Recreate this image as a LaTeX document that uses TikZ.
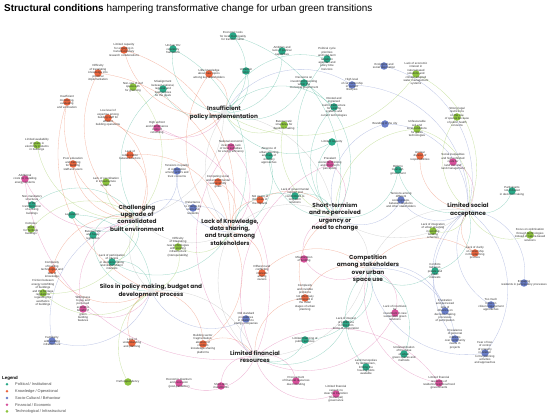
\documentclass[tikz,border=0pt]{standalone}
\usepackage{fontspec}
\setmainfont{Liberation Sans}
\newfontfamily\catfont{Poppins}
\usepackage{tikz}
\usetikzlibrary{backgrounds}

\definecolor{polcol}{RGB}{40,168,135}
\definecolor{knocol}{RGB}{235,100,60}
\definecolor{soccol}{RGB}{105,125,200}
\definecolor{fincol}{RGB}{215,80,155}
\definecolor{teccol}{RGB}{140,195,60}

\begin{document}
\begin{tikzpicture}[
  x=1pt, y=-1pt,
  every node/.style={align=center},
  dot/.style={circle, inner sep=0pt, minimum size=7.5pt},
  pol/.style={dot, fill=polcol},
  kno/.style={dot, fill=knocol},
  soc/.style={dot, fill=soccol},
  fin/.style={dot, fill=fincol},
  tec/.style={dot, fill=teccol},
  hub/.style={circle, inner sep=0pt, minimum size=7pt, fill=black!7},
  lbl/.style={font=\fontsize{2.9}{3.4}\selectfont, text=black!80, inner sep=0pt},
  cat/.style={font=\catfont\bfseries\fontsize{5.8}{7.2}\selectfont, text=black!85, inner sep=0pt},
  link/.style={line width=0.3pt, opacity=0.45},
  legdot/.style={circle, inner sep=0pt, minimum size=2.8pt},
  legtxt/.style={anchor=west, font=\fontsize{3.9}{4.6}\selectfont, text=black!70, inner sep=0pt}
]
\useasboundingbox (0,0) rectangle (550,417);

\node[anchor=west, font=\fontsize{9.9}{11}\selectfont, inner sep=0pt] (title) at (4,9)
  {\textbf{Structural conditions} hampering transformative change for urban green transitions};

% category hubs
\node[hub, label={[cat]center:{Insufficient\\policy implementation}}] (c1) at (224,113) {};
\node[hub, label={[cat]center:{Challenging\\upgrade of\\consolidated\\built environment}}] (c2) at (137,218) {};
\node[hub, label={[cat]center:{Lack of Knowledge,\\data sharing,\\and trust among\\stakeholders}}] (c3) at (230,232) {};
\node[hub, label={[cat]center:{Short-termism\\and no perceived\\urgency or\\need to change}}] (c4) at (335,217) {};
\node[hub, label={[cat]center:{Limited social\\acceptance}}] (c5) at (468,210) {};
\node[hub, label={[cat]center:{Competition\\among stakeholders\\over urban\\space use}}] (c6) at (368,269) {};
\node[hub, label={[cat]center:{Silos in policy making, budget and\\development process}}] (c7) at (151,291) {};
\node[hub, label={[cat]center:{Limited financial\\resources}}] (c8) at (255,357) {};

% political / institutional
\node[pol, label={[lbl]center:{Economic tools\\for local municipality\\for transformation}}] (p1) at (233,36) {};
\node[pol, label={[lbl]center:{Unclear EU\\regulatory\\framework}}] (p2) at (173,49) {};
\node[pol, label={[lbl]center:{Uncertain\\policy}}] (p3) at (246,71) {};
\node[pol, label={[lbl]center:{Misalignment\\between national,\\regional and\\local policies\\for the goals}}] (p4) at (163,89) {};
\node[pol, label={[lbl]center:{Ambition and\\lack of political\\capabilities}}] (p5) at (282,51) {};
\node[pol, label={[lbl]center:{Political cycle\\priorities\\and long-term\\targets in\\agendas and\\policy time\\horizons}}] (p6) at (327,59) {};
\node[pol, label={[lbl]center:{Decisions on\\investment spending\\within the\\municipal government}}] (p7) at (304,83) {};
\node[pol, label={[lbl]center:{Rooted and\\ingrained\\built infrastructure\\for existing\\systems and\\current technologies}}] (p8) at (334,107) {};
\node[pol, label={[lbl]center:{Limited capacity}}] (p9) at (332,142) {};
\node[pol, label={[lbl]center:{Non-mandatory\\structures\\for the\\transformation\\of existing\\buildings}}] (p10) at (32,205) {};
\node[pol, label={[lbl]center:{Legislation}}] (p11) at (72,215) {};
\node[pol, label={[lbl]center:{Bureaucratic\\and heavy\\legislation}}] (p12) at (93,235) {};
\node[pol, label={[lbl]center:{Lack of participation\\of citizens\\in decision-making\\and stakeholders'\\interests}}] (p13) at (112,262) {};
\node[pol, label={[lbl]center:{Absence of\\urban planning\\and lack of\\visionary\\approaches}}] (p14) at (269,156) {};
\node[pol, label={[lbl]center:{Right to\\local self-\\government}}] (p15) at (398,170) {};
\node[pol, label={[lbl]center:{Lack of governmental\\support and\\commitment to\\long-term\\solutions}}] (p16) at (295,196) {};
\node[pol, label={[lbl]center:{Participants\\not included\\in decision-making}}] (p17) at (512,191) {};
\node[pol, label={[lbl]center:{Conflicts\\between\\private and\\public\\interests}}] (p18) at (435,271) {};
\node[pol, label={[lbl]center:{Lack of interest\\of politicians\\in long-term\\forms of cooperation}}] (p19) at (346,324) {};
\node[pol, label={[lbl]center:{Limited financing of\\public services}}] (p20) at (305,340) {};
\node[pol, label={[lbl]center:{Underestimation\\of the value\\of urban\\green spaces and\\methods}}] (p21) at (404,354) {};
\node[pol, label={[lbl]center:{Land monopolies\\by landowners,\\limiting the\\housing plots\\available}}] (p22) at (366,367) {};

% knowledge / operational
\node[kno, label={[lbl]center:{Limited capacity\\for engaging in\\transdisciplinary\\research collaborations}}] (k1) at (124,50) {};
\node[kno, label={[lbl]center:{Difficulty\\of translating\\knowledge into\\practical\\implementation}}] (k2) at (98,73) {};
\node[kno, label={[lbl]center:{Insufficient\\monitoring,\\evaluating\\and verification}}] (k3) at (67,102) {};
\node[kno, label={[lbl]center:{Low level of\\expertise among\\building staff for\\efficient\\building operations}}] (k4) at (108,118) {};
\node[kno, label={[lbl]center:{Little knowledge\\about new topics\\among key stakeholders}}] (k5) at (209,74) {};
\node[kno, label={[lbl]center:{Lack of\\collaboration\\between sectors}}] (k6) at (130,155) {};
\node[kno, label={[lbl]center:{Poor education\\and training\\for building\\staff and users}}] (k7) at (73,164) {};
\node[kno, label={[lbl]center:{Complexity\\of building\\technologies and\\lack of\\knowledge}}] (k8) at (52,270) {};
\node[kno, label={[lbl]center:{Competing social\\and environmental\\sustainability\\goals}}] (k9) at (218,182) {};
\node[kno, label={[lbl]center:{Not aware of\\the scale of\\the impacts}}] (k10) at (260,200) {};
\node[kno, label={[lbl]center:{Different and\\conflicting\\interests\\among\\owners}}] (k11) at (262,273) {};
\node[kno, label={[lbl]center:{Unclear\\division of\\responsibilities}}] (k12) at (420,156) {};
\node[kno, label={[lbl]center:{Lack of clarity\\on ownership\\in the planning\\process}}] (k13) at (475,253) {};
\node[kno, label={[lbl]center:{Lack of\\understanding\\and planning}}] (k14) at (132,343) {};
\node[kno, label={[lbl]center:{Building sector\\fragmentation,\\absence of\\common\\knowledge-sharing\\platforms}}] (k15) at (203,344) {};
\node[kno, label={[lbl]center:{Complexity\\and invisible\\problems\\not effectively\\addressed in\\the initial\\stages of urban\\planning}}] (k16) at (305,298) {};

% socio-cultural / behaviour
\node[soc, label={[lbl]center:{Ecological and\\social deprivation}}] (s1) at (384,66) {};
\node[soc, label={[lbl]center:{High level\\of car ownership\\in current\\lifestyles}}] (s2) at (352,85) {};
\node[soc, label={[lbl]center:{Branding of the city}}] (s3) at (385,124) {};
\node[soc, label={[lbl]center:{Tensions in quality\\of cooperation\\among actors and\\trust concerns}}] (s4) at (177,171) {};
\node[soc, label={[lbl]center:{Reluctance\\to change by\\users and\\residents}}] (s5) at (193,208) {};
\node[soc, label={[lbl]center:{Tensions among\\different\\social groups,\\between residents\\and other stakeholders}}] (s6) at (401,200) {};
\node[soc, label={[lbl]center:{Familiarity\\with existing\\infrastructure}}] (s7) at (52,341) {};
\node[soc, label={[lbl]center:{Old standard\\procedures\\in relation to\\energy companies}}] (s8) at (246,319) {};
\node[soc, label={[lbl]center:{Engaging\\residents in participatory processes}}] (s9) at (524,283) {};
\node[soc, label={[lbl]center:{Frustration\\and perceived\\lack of\\influence on\\decision-making\\processes\\of participation}}] (s10) at (445,311) {};
\node[soc, label={[lbl]center:{Too much\\focus on\\citizen engagement\\approaches}}] (s11) at (491,305) {};
\node[soc, label={[lbl]center:{Prevalence\\of personal\\interests\\over community\\needs in\\projects}}] (s12) at (455,339) {};
\node[soc, label={[lbl]center:{Fear of loss\\of control\\of property\\in relation\\to the planning\\activities\\and approaches}}] (s13) at (485,353) {};

% financial / economic
\node[fin, label={[lbl]center:{High upfront\\and maintenance\\costs of\\retrofitting}}] (f1) at (157,128) {};
\node[fin, label={[lbl]center:{Additional\\costs for installing\\energy systems}}] (f2) at (25,179) {};
\node[fin, label={[lbl]center:{National economic\\incentives, lack\\of local subsidies\\for energy efficiency}}] (f3) at (231,147) {};
\node[fin, label={[lbl]center:{Prevalent\\economic thinking\\and short-term\\perception}}] (f4) at (330,164) {};
\node[fin, label={[lbl]center:{Misallocation\\of funding}}] (f5) at (304,259) {};
\node[fin, label={[lbl]center:{Social inequalities\\and high reflected\\costs for\\land use and\\land management}}] (f6) at (453,162) {};
\node[fin, label={[lbl]center:{Willingness\\to pay and\\perceived\\economic\\benefit of\\green\\building\\features}}] (f7) at (83,309) {};
\node[fin, label={[lbl]center:{Economic downturn\\and recession\\(post-pandemic)}}] (f8) at (179,383) {};
\node[fin, label={[lbl]center:{Short-term\\investments}}] (f9) at (221,386) {};
\node[fin, label={[lbl]center:{Lack of incentives\\for\\investment in new\\sustainable green\\solutions}}] (f10) at (395,313) {};
\node[fin, label={[lbl]center:{Procurement\\of financial resources\\due to funding}}] (f11) at (296,381) {};
\node[fin, label={[lbl]center:{Limited financial\\capacity to\\steer the transition\\(municipal)\\governance}}] (f12) at (336,394) {};
\node[fin, label={[lbl]center:{Limited financial\\resources of\\residents/neighbourhood\\governments}}] (f13) at (439,383) {};

% technological / infrastructural
\node[tec, label={[lbl]center:{Non-use of roof\\space with\\for greening}}] (t1) at (133,87) {};
\node[tec, label={[lbl]center:{Limited availability\\of space in\\electricity systems\\in buildings}}] (t2) at (37,145) {};
\node[tec, label={[lbl]center:{Bureaucratic\\structures for\\decision-making}}] (t3) at (284,125) {};
\node[tec, label={[lbl]center:{Lack of economic\\interest in\\nature-based\\solutions and\\climate-adapted\\water management\\systems}}] (t4) at (416,74) {};
\node[tec, label={[lbl]center:{Strong legal\\restrictions\\on the use\\of spaces because\\of public health\\concerns}}] (t5) at (457,117) {};
\node[tec, label={[lbl]center:{Unfavourable\\soil and\\local conditions\\for green\\technologies}}] (t6) at (417,129) {};
\node[tec, label={[lbl]center:{Lack of coordination\\in infrastructure\\systems}}] (t7) at (106,182) {};
\node[tec, label={[lbl]center:{Complex\\retrofit\\for heritage\\buildings}}] (t8) at (31,229) {};
\node[tec, label={[lbl]center:{Difficulty\\of integrating\\new technologies\\with existing\\infrastructure\\(interoperability)}}] (t9) at (178,247) {};
\node[tec, label={[lbl]center:{Lack of integration\\of urban greening\\in existing\\building\\schemes}}] (t10) at (433,231) {};
\node[tec, label={[lbl]center:{Focus on optimisation\\through technologies\\instead of nature-based\\solutions}}] (t11) at (530,235) {};
\node[tec, label={[lbl]center:{Friction between\\energy retrofitting\\of buildings\\and the heritage\\regulations\\regarding the\\aesthetics\\of buildings}}] (t12) at (43,293) {};
\node[tec, label={[lbl]center:{Path dependency}}] (t13) at (128,382) {};

% legend
\node[anchor=west, font=\bfseries\fontsize{4.4}{5}\selectfont, inner sep=0pt] (legend) at (2,378) {Legend};
\node[legdot, fill=polcol] (lg1) at (7,384.3) {};
\node[legtxt] at (15,384.3) {Political / Institutional};
\node[legdot, fill=knocol] (lg2) at (7,391.2) {};
\node[legtxt] at (15,391.2) {Knowledge / Operational};
\node[legdot, fill=soccol] (lg3) at (7,398) {};
\node[legtxt] at (15,398) {Socio-Cultural / Behaviour};
\node[legdot, fill=fincol] (lg4) at (7,404.7) {};
\node[legtxt] at (15,404.7) {Financial / Economic};
\node[legdot, fill=teccol] (lg5) at (7,411.4) {};
\node[legtxt] at (15,411.4) {Technological / Infrastructural};

% links
\begin{scope}[on background layer]
\fill[white] (0,0) rectangle (550,417);
\foreach \a/\b [count=\i, evaluate=\i as \bnd using {44*(2*mod(\i,2)-1)}] in
  {p1/c1, p2/c1, p3/c1, p4/c1, p5/c1, p6/c1, p7/c1, p8/c1, p9/c1, p9/c4, p7/c4, p8/c4,
   p10/c2, p11/c2, p12/c2, p12/c7, p11/c7, p13/c2, p13/c7, p13/c3, p14/c3, p14/c4,
   p15/c4, p15/c5, p16/c4, p16/c3, p17/c5, p18/c5, p18/c6, p19/c6, p19/c8, p20/c6,
   p20/c8, p21/c6, p22/c6, p4/c2, p2/c3, p6/c4, p1/c4}
  \draw[link, polcol] (\a) to[bend left=\bnd] (\b);
\foreach \a/\b [count=\i, evaluate=\i as \bnd using {42*(1-2*mod(\i,2))}] in
  {k1/c1, k1/c3, k2/c2, k2/c3, k3/c2, k4/c2, k4/c1, k5/c1, k5/c3, k6/c2, k7/c2, k8/c2,
   k8/c7, k9/c3, k10/c3, k10/c4, k11/c3, k11/c6, k12/c5, k13/c5, k13/c6, k14/c7,
   k15/c7, k15/c8, k15/c3, k16/c6, k16/c8, k16/c4, k3/c7, k6/c3}
  \draw[link, knocol] (\a) to[bend left=\bnd] (\b);
\foreach \a/\b [count=\i, evaluate=\i as \bnd using {44*(2*mod(\i,2)-1)}] in
  {s1/c5, s2/c1, s2/c5, s3/c4, s3/c5, s4/c3, s4/c2, s5/c2, s5/c3, s6/c5, s6/c4, s7/c7,
   s7/c2, s8/c8, s8/c7, s9/c5, s10/c5, s10/c6, s11/c5, s12/c6, s12/c5, s13/c5, s13/c6}
  \draw[link, soccol] (\a) to[bend left=\bnd] (\b);
\foreach \a/\b [count=\i, evaluate=\i as \bnd using {46*(1-2*mod(\i,2))}] in
  {f1/c1, f1/c8, f2/c2, f3/c3, f3/c8, f4/c4, f4/c8, f5/c4, f5/c6, f6/c5, f7/c7, f7/c2,
   f8/c8, f9/c8, f10/c6, f10/c8, f11/c8, f12/c8, f13/c8, f13/c6, f2/c8}
  \draw[link, fincol] (\a) to[bend left=\bnd] (\b);
\foreach \a/\b [count=\i, evaluate=\i as \bnd using {42*(2*mod(\i,2)-1)}] in
  {t1/c2, t2/c2, t3/c1, t3/c4, t4/c5, t5/c5, t6/c5, t7/c2, t8/c2, t9/c3, t9/c7, t10/c5,
   t11/c5, t12/c7, t13/c7, t12/c2, t4/c1, t6/c4}
  \draw[link, teccol] (\a) to[bend left=\bnd] (\b);
\foreach \a/\b [count=\i, evaluate=\i as \bnd using {36*(2*mod(\i,2)-1)}] in
  {c1/c2, c1/c3, c1/c4, c2/c3, c3/c4, c4/c5, c4/c6, c3/c8, c7/c8, c2/c7, c6/c8, c5/c6}
  \draw[link, black!35] (\a) to[bend left=\bnd] (\b);
\end{scope}
\end{tikzpicture}
\end{document}
